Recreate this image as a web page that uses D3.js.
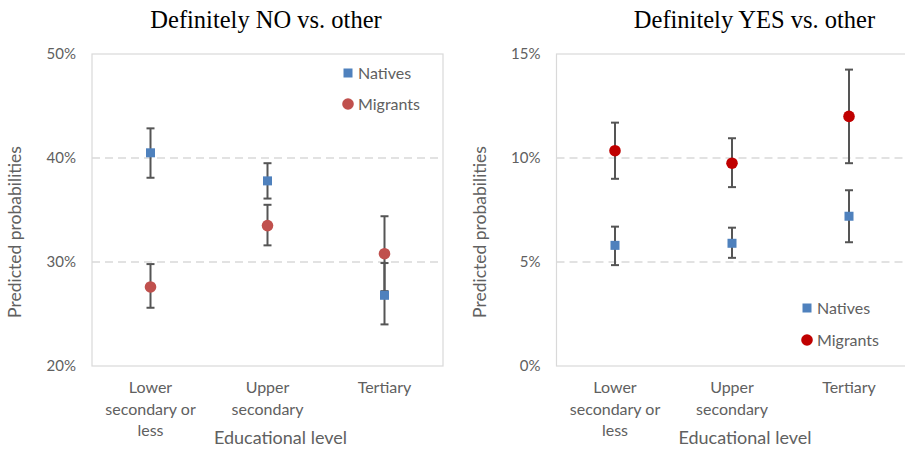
<!DOCTYPE html>
<html>
<head>
<meta charset="utf-8">
<script src="https://cdn.jsdelivr.net/npm/d3@7"></script>
<style>
  body { margin: 0; background: #fff; }
  svg { display: block; }
</style>
</head>
<body>
<svg id="chart" width="905" height="449"></svg>
<script>
// categories on the x axis (each split in the lines shown under the tick)
const categories = ['Lower secondary or less', 'Upper secondary', 'Tertiary'];
const categoryLines = [['Lower', 'secondary or', 'less'], ['Upper', 'secondary'], ['Tertiary']];

// Definitely NO vs. other (percent)
const noNatives = [40.5, 37.8, 26.8];
const noNativesLow = [38.1, 36.1, 24.0];
const noNativesHigh = [42.85, 39.5, 29.9];
const noMigrants = [27.6, 33.5, 30.8];
const noMigrantsLow = [25.6, 31.6, 27.2];
const noMigrantsHigh = [29.8, 35.5, 34.4];
const noTicks = [20, 30, 40, 50];

// Definitely YES vs. other (percent)
const yesNatives = [5.8, 5.9, 7.2];
const yesNativesLow = [4.85, 5.2, 5.95];
const yesNativesHigh = [6.7, 6.65, 8.45];
const yesMigrants = [10.35, 9.75, 12.0];
const yesMigrantsLow = [9.0, 8.6, 9.75];
const yesMigrantsHigh = [11.7, 10.95, 14.25];
const yesTicks = [0, 5, 10, 15];

const svg = d3.select('#chart');
const labelFont = 'Lato, "Open Sans", sans-serif';
const gray = '#606060';
const natColor = '#4F81BD';

const panels = [
  {
    title: 'Definitely NO vs. other', titleX: 266,
    left: 92, right: 443, ticks: noTicks,
    natives: noNatives, natLow: noNativesLow, natHigh: noNativesHigh,
    migrants: noMigrants, migLow: noMigrantsLow, migHigh: noMigrantsHigh,
    migColor: '#C0504D', legendX: 348, legendY: 73, legendGap: 31
  },
  {
    title: 'Definitely YES vs. other', titleX: 754.5,
    left: 556.5, right: 907.5, ticks: yesTicks,
    natives: yesNatives, natLow: yesNativesLow, natHigh: yesNativesHigh,
    migrants: yesMigrants, migLow: yesMigrantsLow, migHigh: yesMigrantsHigh,
    migColor: '#C00000', legendX: 807, legendY: 308, legendGap: 32
  }
];

const plotTop = 54, plotBottom = 366;

panels.forEach(p => {
  const g = svg.append('g');
  const x = d3.scaleBand().domain(categories).range([p.left, p.right]);
  const y = d3.scaleLinear().domain(d3.extent(p.ticks)).range([plotBottom, plotTop]);
  const cx = d => x(d) + x.bandwidth() / 2;

  // title
  g.append('text')
    .attr('x', p.titleX).attr('y', 28)
    .attr('text-anchor', 'middle')
    .attr('font-family', '"Liberation Serif", "Times New Roman", serif')
    .attr('font-size', 24.5)
    .attr('fill', '#000')
    .text(p.title);

  // dashed gridlines
  g.selectAll('line.grid')
    .data(p.ticks.slice(1, -1))
    .join('line')
    .attr('class', 'grid')
    .attr('x1', p.left).attr('x2', p.right)
    .attr('y1', d => y(d)).attr('y2', d => y(d))
    .attr('stroke', '#D9D9D9')
    .attr('stroke-width', 1.5)
    .attr('stroke-dasharray', '8,5');

  // plot border
  g.append('rect')
    .attr('x', p.left).attr('y', plotTop)
    .attr('width', p.right - p.left).attr('height', plotBottom - plotTop)
    .attr('fill', 'none')
    .attr('stroke', '#D9D9D9')
    .attr('stroke-width', 1.2);

  // y tick labels
  g.selectAll('text.ytick')
    .data(p.ticks)
    .join('text')
    .attr('class', 'ytick')
    .attr('x', p.left - 16)
    .attr('y', d => y(d))
    .attr('dy', '0.35em')
    .attr('text-anchor', 'end')
    .attr('font-family', labelFont)
    .attr('font-size', 15)
    .attr('fill', gray)
    .text(d => d + '%');

  // y axis title
  g.append('text')
    .attr('transform', `translate(${p.left - 77},232) rotate(-90)`)
    .attr('text-anchor', 'middle')
    .attr('dy', '0.35em')
    .attr('font-family', labelFont)
    .attr('font-size', 17.5)
    .attr('fill', gray)
    .text('Predicted probabilities');

  // x category labels
  categories.forEach((c, i) => {
    g.append('text')
      .attr('text-anchor', 'middle')
      .attr('font-family', labelFont)
      .attr('font-size', 16)
      .attr('fill', gray)
      .selectAll('tspan')
      .data(categoryLines[i])
      .join('tspan')
      .attr('x', cx(c))
      .attr('y', (d, j) => 393 + j * 21.5)
      .text(d => d);
  });

  // x axis title
  g.append('text')
    .attr('x', (p.left + p.right) / 2 + 13)
    .attr('y', 444)
    .attr('text-anchor', 'middle')
    .attr('font-family', labelFont)
    .attr('font-size', 18)
    .attr('fill', gray)
    .text('Educational level');

  // error bars
  const bars = [];
  categories.forEach((c, i) => {
    bars.push({ c, lo: p.natLow[i], hi: p.natHigh[i] });
    bars.push({ c, lo: p.migLow[i], hi: p.migHigh[i] });
  });
  const eb = g.selectAll('g.err').data(bars).join('g').attr('class', 'err')
    .attr('stroke', '#555').attr('stroke-width', 2);
  eb.append('line')
    .attr('x1', d => cx(d.c)).attr('x2', d => cx(d.c))
    .attr('y1', d => y(d.lo)).attr('y2', d => y(d.hi));
  eb.append('line')
    .attr('x1', d => cx(d.c) - 4).attr('x2', d => cx(d.c) + 4)
    .attr('y1', d => y(d.lo)).attr('y2', d => y(d.lo));
  eb.append('line')
    .attr('x1', d => cx(d.c) - 4).attr('x2', d => cx(d.c) + 4)
    .attr('y1', d => y(d.hi)).attr('y2', d => y(d.hi));

  // migrants (circles)
  g.selectAll('circle.mig')
    .data(p.migrants)
    .join('circle')
    .attr('class', 'mig')
    .attr('cx', (d, i) => cx(categories[i]))
    .attr('cy', d => y(d))
    .attr('r', 5.8)
    .attr('fill', p.migColor);

  // natives (squares)
  g.selectAll('rect.nat')
    .data(p.natives)
    .join('rect')
    .attr('class', 'nat')
    .attr('x', (d, i) => cx(categories[i]) - 4.5)
    .attr('y', d => y(d) - 4.5)
    .attr('width', 9).attr('height', 9)
    .attr('fill', natColor);

  // legend
  const lg = g.append('g').attr('transform', `translate(${p.legendX},${p.legendY})`);
  lg.append('rect').attr('x', -4.5).attr('y', -4.5).attr('width', 9).attr('height', 9).attr('fill', natColor);
  lg.append('circle').attr('cx', 0).attr('cy', p.legendGap).attr('r', 5.8).attr('fill', p.migColor);
  lg.append('text').attr('x', 10).attr('y', 0).attr('dy', '0.35em')
    .attr('font-family', labelFont).attr('font-size', 16).attr('fill', gray).text('Natives');
  lg.append('text').attr('x', 10).attr('y', p.legendGap).attr('dy', '0.35em')
    .attr('font-family', labelFont).attr('font-size', 16).attr('fill', gray).text('Migrants');
});
</script>
</body>
</html>
